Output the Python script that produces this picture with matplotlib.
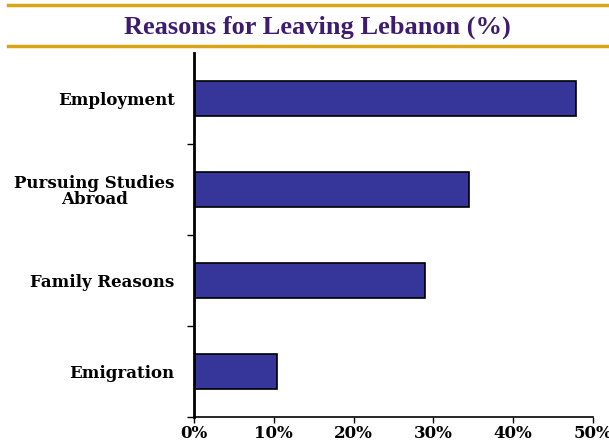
import matplotlib.pyplot as plt
from matplotlib.lines import Line2D
from matplotlib.ticker import FuncFormatter, FixedLocator

reasons = ['Employment', 'Pursuing Studies\nAbroad', 'Family Reasons', 'Emigration']
shares = [47.9, 34.4, 29.0, 10.4]
xticks = [0, 10, 20, 30, 40, 50]

BAR = '#35359a'
GOLD = '#d9a514'
TITLE = '#3d1c6e'
LABEL_FONT = ['DejaVu Serif']


def main():
    plt.rcParams['font.family'] = ['Liberation Serif', 'DejaVu Serif']

    fig = plt.figure(figsize=(6.09, 4.43), dpi=100)
    ax = fig.add_axes([194 / 609, 1 - 417 / 443, 399 / 609, 364 / 443])

    pos = list(range(len(reasons)))
    ax.barh(pos, shares, height=0.385, color=BAR, edgecolor='black', linewidth=1.2)

    ax.set_ylim(len(reasons) - 0.5, -0.5)
    ax.set_xlim(0, 50)

    ax.yaxis.set_major_locator(FixedLocator([p + 0.5 for p in pos]))
    ax.yaxis.set_major_formatter(FuncFormatter(lambda v, p: ''))
    ax.yaxis.set_minor_locator(FixedLocator(pos))
    labels = ax.set_yticklabels(reasons, minor=True, fontsize=12, fontweight='bold',
                                family=LABEL_FONT, linespacing=1.0)
    for lbl in labels:
        lbl.set_multialignment('center')
    ax.tick_params(axis='y', which='minor', length=0, pad=14)
    ax.tick_params(axis='y', which='major', length=5, width=1)

    ax.set_xticks(xticks)
    ax.xaxis.set_major_formatter(FuncFormatter(lambda v, p: f'{v:.0f}%'))
    ax.tick_params(axis='x', length=4, width=1, pad=2, labelsize=12)
    for lbl in ax.get_xticklabels():
        lbl.set_fontweight('bold')
        lbl.set_family(LABEL_FONT)

    for side in ('top', 'right'):
        ax.spines[side].set_visible(False)
    ax.spines['left'].set_linewidth(2)
    ax.spines['bottom'].set_linewidth(1.2)

    # gold rules framing the heading
    for y in (1 - 5 / 443, 1 - 46 / 443):
        fig.add_artist(Line2D([8 / 609, 1], [y, y], color=GOLD, linewidth=2.5,
                              transform=fig.transFigure))

    fig.text(317 / 609, 1 - 27 / 443, 'Reasons for Leaving Lebanon (%)',
             ha='center', va='center', fontsize=19, fontweight='bold', color=TITLE)

    plt.savefig('out.png', dpi=100)


if __name__ == '__main__':
    main()
